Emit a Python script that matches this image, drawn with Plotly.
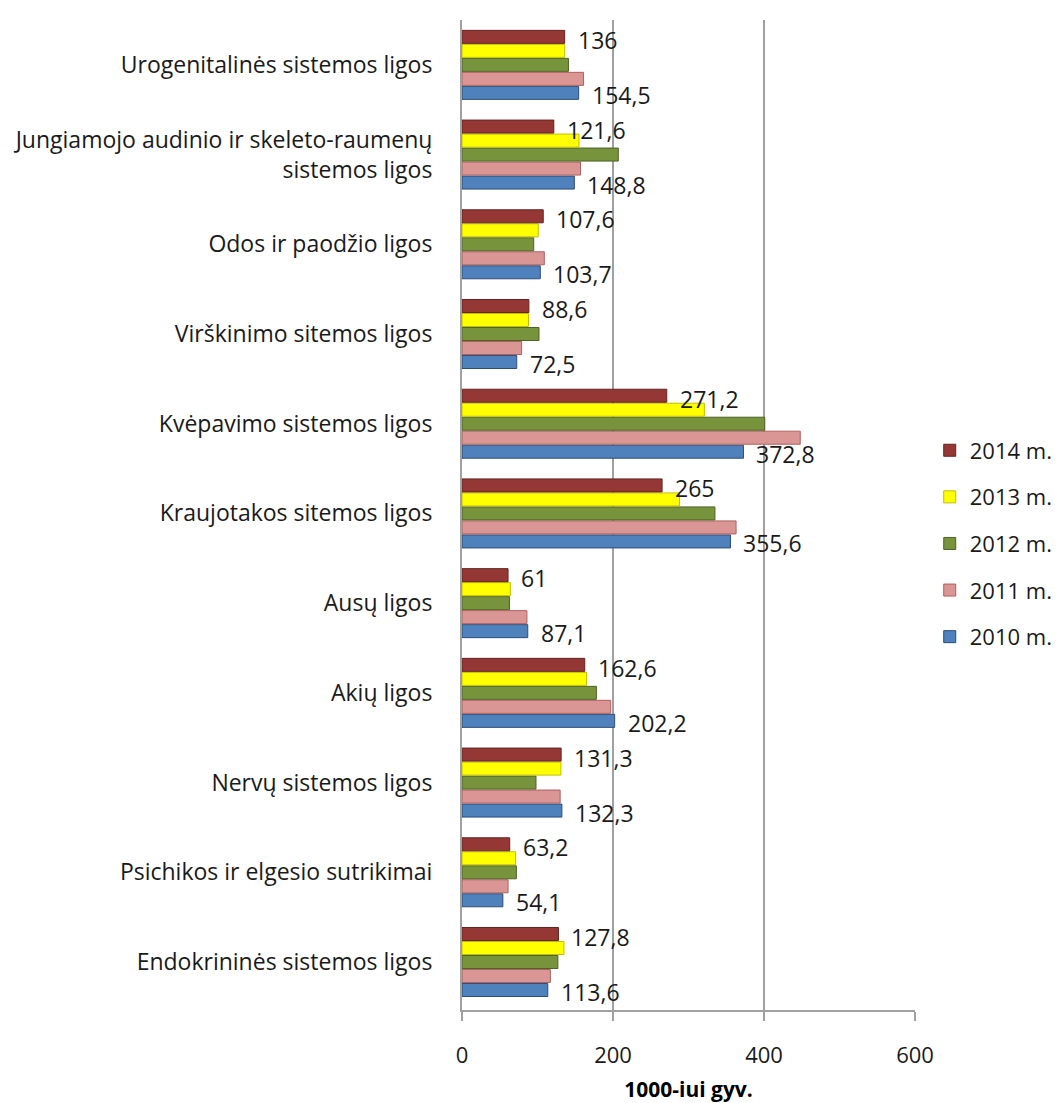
import plotly.graph_objects as go

categories = [
    "Endokrininės sistemos ligos",
    "Psichikos ir elgesio sutrikimai",
    "Nervų sistemos ligos",
    "Akių ligos",
    "Ausų ligos",
    "Kraujotakos sitemos ligos",
    "Kvėpavimo sistemos ligos",
    "Virškinimo sitemos ligos",
    "Odos ir paodžio ligos",
    "Jungiamojo audinio ir skeleto-raumenų<br>sistemos ligos",
    "Urogenitalinės sistemos ligos",
]

series_names = ["2010 m.", "2011 m.", "2012 m.", "2013 m.", "2014 m."]

v2010 = [113.6, 54.1, 132.3, 202.2, 87.1, 355.6, 372.8, 72.5, 103.7, 148.8, 154.5]
v2011 = [117, 61, 130, 197, 86, 363, 448, 79, 109, 157, 161]
v2012 = [127, 72, 98, 178, 63, 335, 401, 102, 95, 207, 141]
v2013 = [135, 71, 131, 165, 64, 288, 321, 88, 101, 155, 136]
v2014 = [127.8, 63.2, 131.3, 162.6, 61, 265, 271.2, 88.6, 107.6, 121.6, 136]

colors = ["#4F81BD", "#D99694", "#77933C", "#FFFF00", "#953735"]
edge_colors = ["#2C4D75", "#B0605E", "#4F6228", "#BFBF00", "#632523"]

all_values = [v2010, v2011, v2012, v2013, v2014]

FONT = "Open Sans"
TXT = "#1a1a1a"
FS = 23

fig = go.Figure()
n = len(series_names)
for i, (name, vals) in enumerate(zip(series_names, all_values)):
    fig.add_trace(go.Bar(
        y=categories, x=vals, orientation="h", name=name,
        marker=dict(color=colors[i], line=dict(color=edge_colors[i], width=1)),
        legendgroup=name, legendrank=n - i,
        hoverinfo="x+name",
    ))

def fmt(v):
    return ("%g" % v).replace(".", ",")

annotations = []
for cat, v in zip(categories, v2014):
    annotations.append(dict(x=v, y=cat, text=fmt(v), showarrow=False,
                            xanchor="left", yanchor="middle", xshift=11, yshift=25,
                            font=dict(size=FS, color=TXT, family=FONT)))
for cat, v in zip(categories, v2010):
    annotations.append(dict(x=v, y=cat, text=fmt(v), showarrow=False,
                            xanchor="left", yanchor="middle", xshift=11, yshift=-30,
                            font=dict(size=FS, color=TXT, family=FONT)))

fig.update_layout(
    width=1051, height=1095,
    margin=dict(l=454, r=144, t=12, b=93, autoexpand=False),
    paper_bgcolor="white", plot_bgcolor="white",
    barmode="group", bargap=0.22, bargroupgap=0.07,
    font=dict(family=FONT, size=FS, color=TXT),
    showlegend=True,
    legend=dict(
        xref="container", yref="container",
        x=0.877, y=0.511, xanchor="left", yanchor="middle",
        traceorder="grouped", tracegroupgap=15,
        font=dict(size=22, family=FONT, color=TXT),
        bgcolor="rgba(0,0,0,0)",
    ),
    annotations=annotations,
    xaxis=dict(
        range=[0, 600], tickvals=[0, 200, 400, 600],
        showgrid=True, gridcolor="#A0A0A0", gridwidth=2,
        showline=True, linecolor="#A0A0A0", linewidth=2,
        ticks="outside", ticklen=9, tickcolor="#A0A0A0", tickwidth=2,
        ticklabelstandoff=16,
        zeroline=False, automargin=False,
        tickfont=dict(size=22, family=FONT, color=TXT),
        title=dict(text="<b>1000-iui gyv.</b>", font=dict(size=21, family=FONT, color="#000000"), standoff=20),
        fixedrange=True,
    ),
    yaxis=dict(
        categoryorder="array", categoryarray=categories,
        showline=True, linecolor="#A0A0A0", linewidth=2,
        ticks="", ticklabelstandoff=23, automargin=False,
        tickfont=dict(size=FS, family=FONT, color=TXT),
        showgrid=False,
        fixedrange=True,
    ),
)

fig.write_html("out.html")
